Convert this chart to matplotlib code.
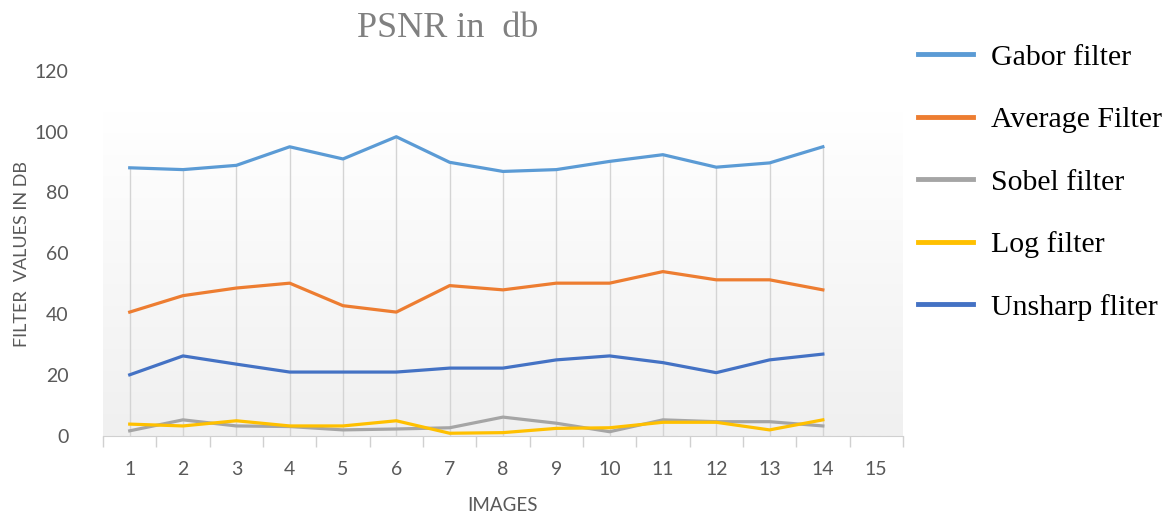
import numpy as np
import matplotlib
matplotlib.use('Agg')
import matplotlib.pyplot as plt
from matplotlib.lines import Line2D

# data
images = list(range(1, 15))
gabor = [88.1, 87.5, 88.9, 95.0, 91.0, 98.3, 89.9, 86.9, 87.5, 90.2, 92.4, 88.3, 89.7, 95.0]
average = [40.7, 46.1, 48.6, 50.2, 42.8, 40.7, 49.4, 48.0, 50.2, 50.2, 54.0, 51.3, 51.3, 48.0]
sobel = [1.7, 5.3, 3.3, 3.1, 2.0, 2.3, 2.7, 6.2, 4.2, 1.4, 5.3, 4.7, 4.7, 3.3]
log_f = [3.9, 3.3, 5.0, 3.3, 3.3, 5.0, 0.9, 1.1, 2.5, 2.7, 4.5, 4.5, 2.0, 5.3]
unsharp = [20.1, 26.3, 23.6, 21.0, 21.0, 21.0, 22.3, 22.3, 25.0, 26.3, 24.1, 20.8, 25.0, 26.9]
x_labels = [str(i) for i in range(1, 16)]

series = [
    ('Gabor filter', gabor, '#5B9BD5'),
    ('Average Filter', average, '#ED7D31'),
    ('Sobel filter', sobel, '#A5A5A5'),
    ('Log filter', log_f, '#FFC000'),
    ('Unsharp fliter', unsharp, '#4472C4'),
]

fig = plt.figure(figsize=(11.71, 5.17), dpi=100)
ax = fig.add_axes([0.088, 0.1567, 0.683, 0.7066])

# plot-area gradient (white at top -> light grey at bottom)
grad = np.linspace(1.0, 0.0, 256).reshape(-1, 1)
cmap = matplotlib.colors.LinearSegmentedColormap.from_list('bg', ['#f0f0f0', '#ffffff'])
ax.imshow(grad, extent=[0.5, 15.5, 0, 106.5], aspect='auto', cmap=cmap,
          origin='upper', zorder=0, vmin=0, vmax=1)

# drop lines from axis up to the highest point
tops = np.max([gabor, average, sobel, log_f, unsharp], axis=0)
ax.vlines(images, 0, tops, color='#d4d4d4', lw=1, zorder=1)

for name, vals, col in series:
    ax.plot(images, vals, color=col, lw=2.3, zorder=3, solid_joinstyle='round')

ax.set_xlim(0.5, 15.5)
ax.set_ylim(0, 120)
ax.set_yticks(range(0, 121, 20))
ax.set_xticks(range(1, 16))
ax.set_xticklabels(x_labels)
ax.set_xticks(np.arange(0.5, 15.6, 1), minor=True)
ax.tick_params(axis='x', which='major', length=0, pad=18, labelsize=14, labelcolor='#595959')
ax.tick_params(axis='x', which='minor', length=8, color='#d0d0d0', width=1)
ax.tick_params(axis='y', length=0, pad=25, labelsize=14, labelcolor='#595959')
for lab in ax.get_xticklabels() + ax.get_yticklabels():
    lab.set_family('Lato')

for s in ['top', 'right', 'left']:
    ax.spines[s].set_visible(False)
ax.spines['bottom'].set_color('#d0d0d0')
ax.patch.set_alpha(0)

fig.text(0.019, 0.508, 'FILTER  VALUES IN DB', rotation=90, ha='center', va='center',
         fontsize=13, color='#595959', family='Lato')
fig.text(0.4287, 0.023, 'IMAGES', ha='center', va='center', fontsize=13.5,
         color='#595959', family='Lato')
fig.text(0.382, 0.945, 'PSNR in  db', ha='center', va='center', fontsize=26,
         color='#808080', family='Liberation Serif')

handles = [Line2D([], [], color=c, lw=3.5) for _, _, c in series]
labels = [n for n, _, _ in series]
fig.legend(handles, labels, loc='upper left', bbox_to_anchor=(0.761, 0.967),
           frameon=False, prop={'family': 'Liberation Serif', 'size': 21.5},
           handlelength=1.84, handletextpad=0.6, labelspacing=1.19)

fig.savefig('out.png', dpi=100)
